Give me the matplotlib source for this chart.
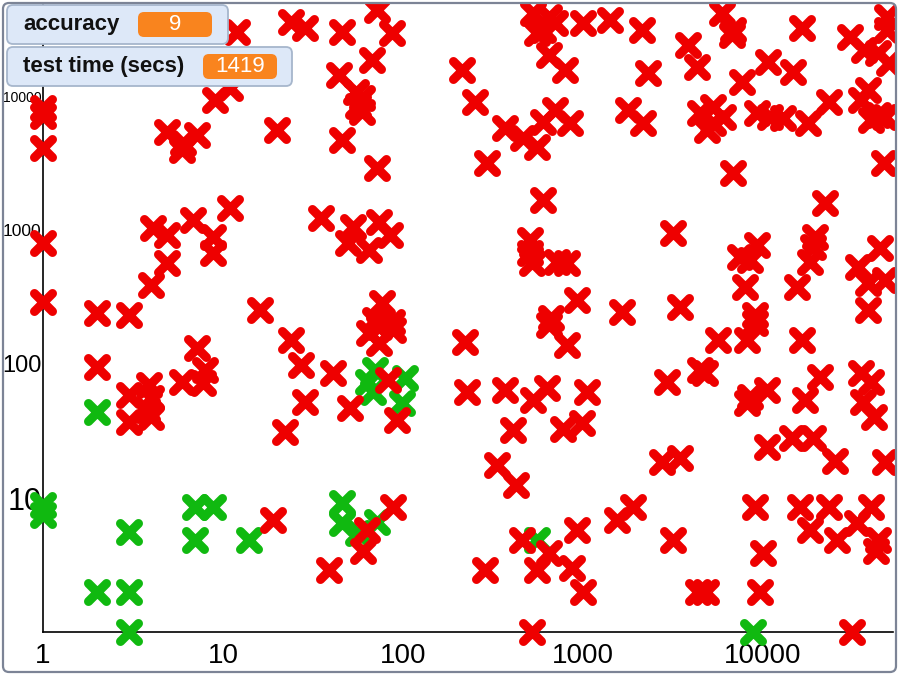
import matplotlib
matplotlib.use("Agg")
import matplotlib.pyplot as plt
from matplotlib.markers import MarkerStyle
from matplotlib.patches import FancyBboxPatch
from matplotlib.transforms import IdentityTransform
from matplotlib.ticker import NullLocator

plt.rcParams["font.family"] = ["Liberation Sans", "DejaVu Sans"]

# failed runs (red)
red_x = [12, 24, 28.5, 9, 11, 1, 1, 1, 4.9, 6,
         7.2, 5.9, 20, 11, 6.8, 4.1, 4.9, 8.8, 8.8, 35,
         1, 4.9, 4, 1, 2, 3, 16,
         72, 87, 46, 67, 44, 55, 59, 56, 59, 46,
         72, 212, 250, 367, 462, 552, 597, 696, 843, 291,
         525, 650, 597, 552, 696, 650, 790, 996, 1410, 597,
         53, 49.5, 65, 74, 85, 505, 505, 518, 716, 811,
         76, 70, 87, 922, 668,
         2120, 5930, 6820, 6730, 16500, 3830, 4300, 2290, 7660, 10700,
         14700, 1770, 2150, 4470, 5270, 4890, 6000, 5270, 9290, 10900,
         12900, 17700, 23400, 30400, 36300, 43800, 48600, 48600, 49800, 38400,
         34900, 43800, 47400, 40000, 46800, 6820, 22100, 3160, 7460, 9290,
         8490, 19500, 18900, 18200, 15500, 33800, 44400, 38400, 47400, 7960,
         9050, 38400, 1640, 3460,
         2, 7.2, 7.9, 7.7, 5.9, 3, 3.9, 4, 3, 4,
         3.8, 24, 27, 28.5, 22, 74, 74, 88, 65, 220,
         650, 811, 41, 51, 83, 93, 228, 367, 525, 628,
         1050, 406, 770, 983, 331, 427,
         5620, 8180, 16500, 9050, 2930, 4470, 4770, 8490, 10500, 8180,
         17100, 20700, 34900, 40000, 35800, 41500, 10500, 14500, 18900, 25000,
         47400, 2740, 3460,
         1540, 1890, 3160, 9050, 10000, 16000, 23400, 40000, 18200, 25800,
         33300, 43800, 42700, 4370, 4800, 9650, 31200, 518,
         19, 63, 60, 88, 39, 285, 456, 650, 552, 866, 922, 996]
red_y = [30100, 35700, 32200, 9330, 11500, 8130, 7090, 4090, 5390, 4460,
         5110, 3950, 5580, 1460, 1190, 1040, 918, 887, 673, 1230,
         800, 567, 389, 290, 240, 232, 253,
         43800, 29500, 30100, 18600, 14300, 10700, 9670, 8420, 7600, 4700,
         2900, 15600, 9020, 5770, 4860, 4160, 6390, 7870, 6290, 3160,
         41600, 38900, 31100, 29500, 35100, 20200, 15600, 35100, 36900, 1680,
         1050, 800, 709, 1150, 918, 842, 673, 567, 577, 567,
         285, 213, 206, 301, 220,
         31100, 41600, 31100, 28500, 32200, 24000, 16400, 14900, 12700, 17900,
         15100, 7870, 6290, 7470, 8280, 5580, 6970, 6290, 7470, 6970,
         6850, 6290, 9020, 27600, 22000, 20900, 38900, 31100, 17600, 11100,
         9330, 7220, 6970, 6620, 3160, 2660, 1590, 950, 629, 773,
         597, 887, 747, 577, 376, 530, 734, 402, 424, 376,
         232, 253, 244, 266,
         95, 132, 90, 72, 73, 59, 70, 56, 37, 40,
         45, 151, 98, 52, 31, 189, 143, 179, 170, 146,
         195, 139, 86, 47, 76, 38, 62, 64, 54, 66,
         62, 32, 33, 36, 17.6, 12.5,
         151, 151, 151, 202, 73, 90, 86, 57, 64, 51,
         54, 80, 86, 73, 52, 40, 24, 28, 28, 19,
         18.6, 18.6, 20,
         6.9, 8.6, 4.9, 8.6, 3.9, 8.6, 8.6, 8.6, 5.8, 4.9,
         6.5, 4.9, 4.0, 2.0, 2.0, 2.0, 1, 1,
         6.9, 5.8, 4.0, 8.6, 2.9, 2.9, 4.9, 3.9, 2.9, 3.0, 5.8, 2.0]

# successful runs (green)
green_x = [1, 1, 2, 3, 7, 8.8, 7, 14, 2, 3, 3,
           70, 68, 64, 102, 98.5, 46, 46, 72, 56, 552, 8820]
green_y = [8.9, 7.5, 44, 5.6, 8.6, 8.6, 4.9, 4.9, 2, 2, 1,
           90, 62, 73, 79, 51, 9.2, 6.5, 6.6, 5.5, 4.9, 1]

x_ticks = [1, 10, 100, 1000, 10000]
x_labels = ["1", "10", "100", "1000", "10000"]
y_ticks = [10, 100, 1000, 10000]
y_labels = ["10", "100", "1000", "10000"]
y_label_sizes = [22, 17, 12.5, 10]

badge_names = ["accuracy", "test time (secs)"]
badge_values = ["9", "1419"]

RED = "#ee0000"
GREEN = "#10b910"

fig = plt.figure(figsize=(9, 6.76), dpi=100)
fig.patch.set_facecolor("white")
ident = IdentityTransform()

# outer rounded frame (also used to clip the markers)
frame = FancyBboxPatch((3, 4), 893, 669, boxstyle="round,pad=0,rounding_size=6",
                       transform=ident, fc="none", ec="#7c8496", lw=1.6, zorder=10)
fig.add_artist(frame)

ax = fig.add_axes([43 / 900, 44 / 676, 850 / 900, 629 / 676])
ax.patch.set_visible(False)
ax.set_xscale("log")
ax.set_yscale("log")
ax.set_xlim(1, 10 ** (850 / 180))
ax.set_ylim(1, 10 ** (629 / 134))

mk = MarkerStyle("x", capstyle="round")
for xs, ys, c in [(green_x, green_y, GREEN), (red_x, red_y, RED)]:
    ln, = ax.plot(xs, ys, ls="none", marker=mk, ms=13, mew=6.5, color=c)
    ln.set_clip_path(frame)
    ln.set_clip_box(None)

for s in ["top", "right"]:
    ax.spines[s].set_visible(False)
for s in ["left", "bottom"]:
    ax.spines[s].set_linewidth(1.2)
    ax.spines[s].set_color("black")
    ax.spines[s].set_zorder(0.5)

ax.xaxis.set_minor_locator(NullLocator())
ax.yaxis.set_minor_locator(NullLocator())
ax.set_xticks(x_ticks, labels=x_labels)
ax.set_yticks(y_ticks, labels=y_labels)
ax.tick_params(axis="x", length=0, pad=8, labelsize=20)
ax.tick_params(axis="y", length=0, pad=1)
for lbl, fs in zip(ax.get_yticklabels(), y_label_sizes):
    lbl.set_fontsize(fs)

# badges in the top-left corner
boxes = [(7, 632, 221, 39, 138), (7, 590, 285, 39, 203)]
for (bx, by, bw, bh, px), name, val in zip(boxes, badge_names, badge_values):
    fig.add_artist(FancyBboxPatch((bx, by), bw, bh, boxstyle="round,pad=0,rounding_size=6",
                                  transform=ident, fc="#dde8f8", ec="#a6b6cc", lw=1.3, zorder=20))
    fig.add_artist(FancyBboxPatch((px, by + 7), 74, 25, boxstyle="round,pad=0,rounding_size=6",
                                  transform=ident, fc="#f9841e", ec="none", zorder=21))
    fig.text(bx + 16, by + bh / 2, name, transform=ident, fontsize=16, fontweight="bold",
             va="center", ha="left", color="#111111", zorder=22)
    fig.text(px + 37, by + bh / 2, val, transform=ident, fontsize=16,
             va="center", ha="center", color="white", zorder=22)

fig.savefig("out.png", dpi=100)
